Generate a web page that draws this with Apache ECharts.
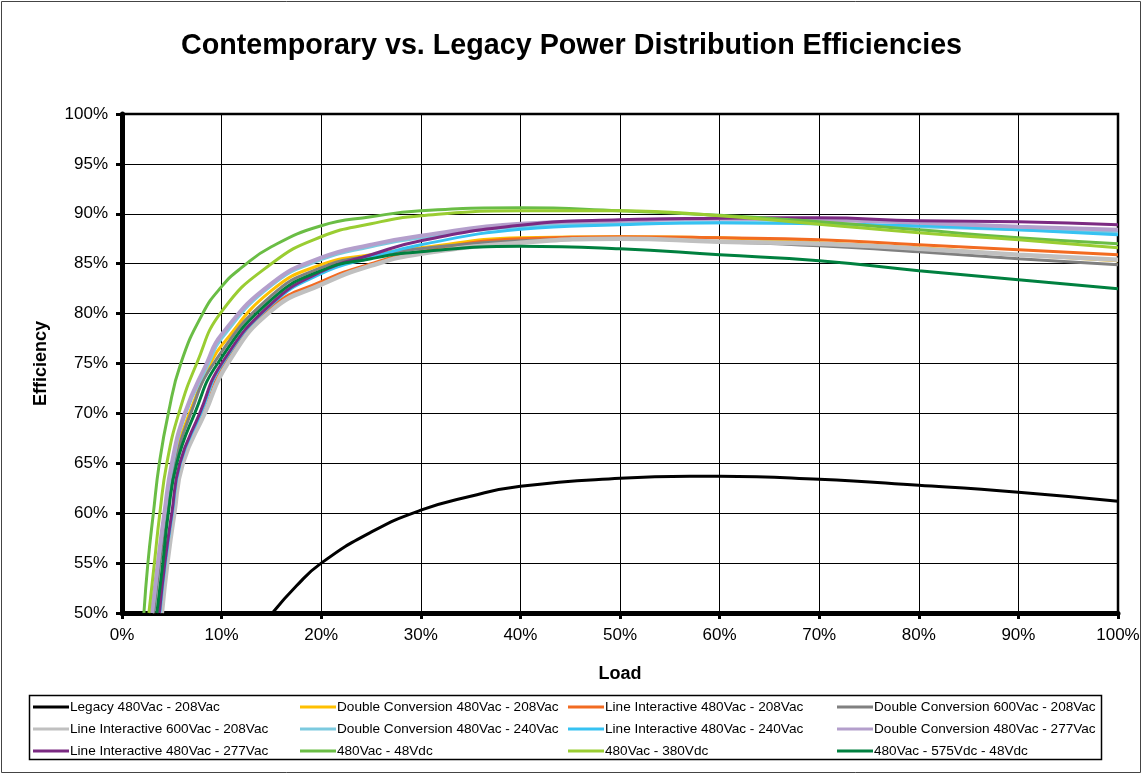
<!DOCTYPE html>
<html>
<head>
<meta charset="utf-8">
<script src="https://cdn.jsdelivr.net/npm/echarts@6/dist/echarts.min.js"></script>
<style>
html,body{margin:0;padding:0;background:#fff;}
#chart{width:1143px;height:776px;}
</style>
</head>
<body>
<div id="chart"></div>
<script>
// ---- Data: [load %, efficiency %] ----
const seriesNames = [
  'Legacy 480Vac - 208Vac',
  'Double Conversion 480Vac - 208Vac',
  'Line Interactive 480Vac - 208Vac',
  'Double Conversion 600Vac - 208Vac',
  'Line Interactive 600Vac - 208Vac',
  'Double Conversion 480Vac - 240Vac',
  'Line Interactive 480Vac - 240Vac',
  'Double Conversion 480Vac - 277Vac',
  'Line Interactive 480Vac - 277Vac',
  '480Vac - 48Vdc',
  '480Vac - 380Vdc',
  '480Vac - 575Vdc - 48Vdc'
];
const legacy480_208 = [[15.1,50],[17.5,52.7],[20,55.0],[25,58.1],[30,60.3],[35,61.7],[40,62.7],[50,63.5],[57,63.7],[60,63.7],[70,63.4],[80,62.8],[90,62.1],[100,61.2]];
const dc480_208 = [[3.1,50],[3.7,55],[4.4,60],[5.2,65],[6.75,70],[8.9,75],[10,76.8],[15,82.3],[20,84.9],[25,85.9],[30,86.6],[40,87.6],[50,87.7],[60,87.6],[70,87.1],[80,86.6],[90,85.9],[100,85.3]];
const li480_208 = [[3.9,50],[4.45,55],[5.15,60],[6.0,65],[8.2,70],[10.4,75],[15,80.6],[20,83.2],[25,85.0],[30,86.2],[40,87.5],[50,87.7],[60,87.6],[70,87.4],[80,86.9],[90,86.4],[100,85.9]];
const dc600_208 = [[3.2,50],[3.8,55],[4.5,60],[5.35,65],[6.9,70],[9.2,75],[15,81.8],[20,84.6],[25,85.8],[30,86.5],[40,87.3],[50,87.5],[60,87.2],[70,86.8],[80,86.2],[90,85.5],[100,84.9]];
const li600_208 = [[4.0,50],[4.55,55],[5.25,60],[6.1,65],[8.3,70],[10.6,75],[15,80.3],[20,82.9],[25,84.8],[30,86.0],[40,87.1],[50,87.5],[60,87.2],[70,87.0],[80,86.5],[90,85.9],[100,85.4]];
const dc480_240 = [[3.05,50],[3.65,55],[4.3,60],[5.1,65],[6.4,70],[8.7,75],[10,77.5],[15,82.8],[20,85.4],[25,86.7],[30,87.6],[40,88.7],[50,89.0],[60,89.1],[70,89.0],[80,88.7],[90,88.4],[100,88.1]];
const li480_240 = [[3.8,50],[4.35,55],[5.05,60],[5.85,65],[7.9,70],[10.1,75],[15,80.9],[20,84.0],[25,85.6],[30,86.9],[40,88.45],[50,88.9],[60,89.1],[70,89.0],[80,88.8],[90,88.4],[100,87.9]];
const dc480_277 = [[3.0,50],[3.6,55],[4.25,60],[5.0,65],[6.3,70],[8.5,75],[10,77.9],[15,83.0],[20,85.6],[25,86.9],[30,87.8],[40,89.0],[50,89.3],[60,89.5],[70,89.4],[80,89.1],[90,88.7],[100,88.4]];
const li480_277 = [[3.75,50],[4.3,55],[5.0,60],[5.8,65],[7.8,70],[10,75],[15,81.0],[20,84.2],[25,85.9],[30,87.3],[40,88.85],[50,89.4],[60,89.55],[70,89.6],[80,89.3],[90,89.2],[100,88.9]];
const v480_48dc = [[2.2,50],[2.6,55],[3.15,60],[3.75,65],[4.65,70],[5.9,75],[8.1,80],[10,82.7],[12,84.6],[15,86.7],[20,88.8],[25,89.7],[30,90.3],[40,90.6],[50,90.3],[60,89.85],[70,89.2],[80,88.4],[90,87.6],[100,87.0]];
const v480_380dc = [[2.7,50],[3.25,55],[3.8,60],[4.5,65],[5.7,70],[7.5,75],[10,80.2],[15,85.0],[20,87.7],[25,89.0],[30,89.8],[40,90.3],[50,90.3],[60,89.8],[70,88.95],[80,88.1],[90,87.4],[100,86.6]];
const v575_48dc = [[3.5,50],[4.1,55],[4.65,60],[5.5,65],[7.3,70],[9.6,75],[15,81.4],[20,84.3],[25,85.5],[30,86.2],[40,86.75],[50,86.5],[60,85.9],[70,85.3],[80,84.3],[90,83.4],[100,82.5]];

const allData = [legacy480_208, dc480_208, li480_208, dc600_208, li600_208, dc480_240, li480_240, dc480_277, li480_277, v480_48dc, v480_380dc, v575_48dc];
const colors = ['#000000','#FFC000','#F26B21','#808080','#C0C0C0','#7CCADF','#36C2F2','#B49FCC','#7B2A82','#6ABD45','#9ACD32','#00803F'];
const widths = [3,3,3,3,4.5,3,3,4,3,3,3,3];

const xTicks = {min:0, max:100, interval:10};
const yTicks = {min:50, max:100, interval:5};

const FONT = 'Arial, "Liberation Sans", sans-serif';
const chart = echarts.init(document.getElementById('chart'), null, {renderer:'canvas'});

const legendCols = [
  [0,4,8],[1,5,9],[2,6,10],[3,7,11]
];
const legendLeft = [33, 300, 568, 837];

const option = {
  backgroundColor:'#fff',
  animation:false,
  title:{
    text:'Contemporary vs. Legacy Power Distribution Efficiencies',
    left:'center', top:32, padding:0,
    textStyle:{fontFamily:FONT, fontSize:28.7, fontWeight:'bold', color:'#000'}
  },
  graphic:[
    {type:'rect', shape:{x:1.5,y:1.5,width:1139,height:771}, style:{fill:null, stroke:'#444', lineWidth:1}, silent:true},
    {type:'rect', shape:{x:29.5,y:695.5,width:1072,height:64}, style:{fill:null, stroke:'#000', lineWidth:1.5}, silent:true}
  ],
  legend: legendCols.map((col, i) => ({
    orient:'vertical',
    left: legendLeft[i], top: 699, padding:0,
    itemWidth:36, itemHeight:3, itemGap:6,
    icon:'rect',
    data: col.map(k => seriesNames[k]),
    textStyle:{fontFamily:FONT, fontSize:13.6, color:'#000', lineHeight:16, padding:[0,0,0,-4]},
    selectedMode:false
  })),
  grid:{left:122, right:25, top:114, bottom:163, show:true, borderColor:'#000', borderWidth:2.5},
  xAxis:{
    type:'value', min:xTicks.min, max:xTicks.max, interval:xTicks.interval,
    name:'Load', nameLocation:'middle', nameGap:52,
    nameTextStyle:{fontFamily:FONT, fontSize:18, fontWeight:'bold', color:'#000'},
    axisLine:{show:true, onZero:false, lineStyle:{color:'#000', width:5}},
    axisTick:{show:true, length:6, lineStyle:{color:'#000', width:3}},
    axisLabel:{formatter:'{value}%', fontFamily:FONT, fontSize:17, color:'#000', margin:14},
    splitLine:{show:true, lineStyle:{color:'#000', width:1}}
  },
  yAxis:{
    type:'value', min:yTicks.min, max:yTicks.max, interval:yTicks.interval,
    name:'Efficiency', nameLocation:'middle', nameGap:72, nameRotate:90,
    nameTextStyle:{fontFamily:FONT, fontSize:18, fontWeight:'bold', color:'#000'},
    axisLine:{show:true, onZero:false, lineStyle:{color:'#000', width:5}},
    axisTick:{show:true, length:6, lineStyle:{color:'#000', width:3}},
    axisLabel:{formatter:'{value}%', fontFamily:FONT, fontSize:17, color:'#000', margin:14},
    splitLine:{show:true, lineStyle:{color:'#000', width:1}}
  },
  series: seriesNames.map((n, i) => ({
    name:n, type:'line', data: allData[i],
    showSymbol:false, symbol:'none',
    smooth:0.5,
    lineStyle:{color:colors[i], width:widths[i]},
    itemStyle:{color:colors[i]},
    clip:true, z: 3
  }))
};
chart.setOption(option);
</script>
</body>
</html>
